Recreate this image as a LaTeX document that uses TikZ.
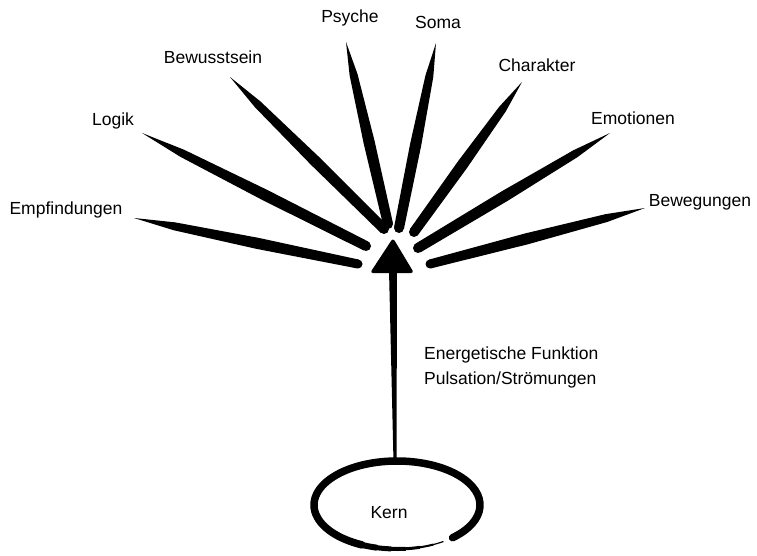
\documentclass[tikz,border=0pt]{standalone}
\usepackage{fontspec}
\setmainfont{Liberation Sans}
\usetikzlibrary{calc}

\tikzset{
	lbl/.style={font=\fontsize{17.5}{25}\selectfont, inner sep=0pt, anchor=center},
	ink/.style={fill=black, draw=none}
}
% brush stroke: thick round end at #2, tip at #3
\newcommand{\brush}[3][5]{%
	\coordinate (bm) at ($(#2)!0.45!(#3)$);
	\coordinate (bn) at ($(#2)!0.82!(#3)$);
	\fill[ink] ($(#2)!#1pt!90:(#3)$) -- ($(bm)!5.6pt!-90:(#2)$) -- ($(bn)!4pt!-90:(#2)$) -- (#3)
		-- ($(bn)!4pt!90:(#2)$) -- ($(bm)!5.6pt!90:(#2)$) -- ($(#2)!#1pt!-90:(#3)$) -- cycle;
	\fill[ink] (#2) circle (#1pt);
}

\begin{document}
\begin{tikzpicture}[x=1pt,y=-1pt]
	\useasboundingbox (0,0) rectangle (757,556);

	% labels
	\node[lbl] (emp) at (66,210) {Empfindungen};
	\node[lbl] (log) at (113,121) {Logik};
	\node[lbl] (bew) at (213,57) {Bewusstsein};
	\node[lbl] (psy) at (350,18) {Psyche};
	\node[lbl] (som) at (438,22) {Soma};
	\node[lbl] (cha) at (537,65) {Charakter};
	\node[lbl] (emo) at (633,118) {Emotionen};
	\node[lbl] (bwg) at (700,202) {Bewegungen};
	\node[lbl, anchor=west, align=left] (fkt) at (424,367)
		{Energetische Funktion\\Pulsation/Strömungen};
	\node[lbl] (kern) at (389,513) {Kern};

	% stroke ends
	\coordinate (emp-in) at (358,264);	\coordinate (emp-out) at (134,218);
	\coordinate (log-in) at (366,246);	\coordinate (log-out) at (142,133);
	\coordinate (bew-in) at (384,229);	\coordinate (bew-out) at (230,77);
	\coordinate (psy-in) at (388,224);	\coordinate (psy-out) at (346,42);
	\coordinate (som-in) at (399,228);	\coordinate (som-out) at (436,43);
	\coordinate (cha-in) at (414,232);	\coordinate (cha-out) at (522,82);
	\coordinate (emo-in) at (418,248);	\coordinate (emo-out) at (610,133);
	\coordinate (bwg-in) at (430,264);	\coordinate (bwg-out) at (645,208);

	\brush[4.5]{emp-in}{emp-out}
	\brush{log-in}{log-out}
	\brush{bew-in}{bew-out}
	\brush{psy-in}{psy-out}
	\brush{som-in}{som-out}
	\brush{cha-in}{cha-out}
	\brush{emo-in}{emo-out}
	\brush[4.5]{bwg-in}{bwg-out}

	% arrow head and shaft
	\coordinate (tip) at (393,238);
	\coordinate (shaft) at (393,272);
	\coordinate (kern-top) at (395,462);
	\fill[ink, rounded corners=3pt] (tip) -- (414,273) -- (370,273) -- cycle;
	\fill[ink] ($(shaft)+(-4,-2)$) -- ($(shaft)+(4,-2)$) -- ($(kern-top)+(1.5,0)$)
		-- ($(kern-top)+(-1.5,0)$) -- cycle;

	% open ring round the core, thinning out at the bottom
	\coordinate (ring) at (397,505);
	\draw[line width=7.5pt, line cap=round] (ring) ++(48:83 and 44) arc[start angle=48, end angle=-245, x radius=83, y radius=44];
	\foreach \a/\w in {-245/6, -255/5, -265/4, -275/3, -285/2, -293/1.2}
		\draw[line width=\w pt] (ring) ++(\a:83 and 44) arc[start angle=\a, delta angle=-11, x radius=83, y radius=44];
\end{tikzpicture}
\end{document}
